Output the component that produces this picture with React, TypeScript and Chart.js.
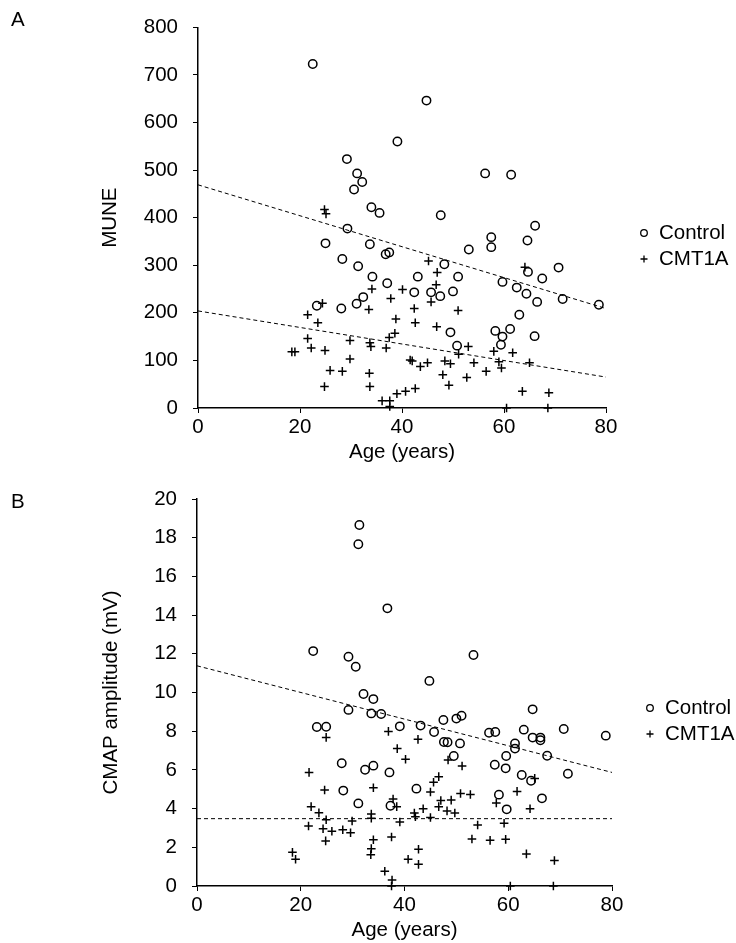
import React, { useEffect, useRef } from "react";
import { Chart, registerables } from "chart.js";
Chart.register(...registerables);

const FONT = "'Liberation Sans', Arial, sans-serif";
const FS = 20.5;

// ---------- Panel A: MUNE ----------
const muneControlAge = [22.5, 39.1, 29.2, 31.2, 32.2, 30.6, 34.0, 35.6, 29.3, 44.8, 56.3, 61.4, 47.6, 66.1, 25.0, 33.7, 36.8, 37.5, 28.3, 31.4, 34.2, 37.1, 23.3, 32.4, 31.1, 28.1, 57.5, 57.5, 64.6, 53.1, 48.3, 70.7, 64.7, 43.1, 51.0, 67.5, 59.7, 62.5, 42.4, 45.7, 47.5, 50.0, 64.4, 66.5, 71.5, 78.6, 63.0, 49.5, 58.3, 61.2, 59.7, 66.0, 59.4, 50.8];
const muneControlValue = [723, 560, 523, 493, 475, 459, 422, 410, 377, 646, 493, 490, 405, 383, 346, 344, 323, 327, 313, 298, 276, 262, 215, 233, 219, 209, 359, 338, 352, 333, 302, 295, 286, 276, 276, 272, 265, 253, 243, 243, 235, 245, 240, 223, 229, 217, 196, 159, 162, 166, 150, 151, 133, 131];
const muneCmtAge = [24.8, 25.1, 34.1, 40.1, 37.8, 24.4, 33.5, 21.5, 38.8, 23.5, 38.6, 37.5, 21.5, 29.8, 33.7, 33.9, 36.9, 22.2, 24.9, 18.4, 19.0, 29.8, 25.9, 28.3, 33.6, 24.8, 33.7, 40.7, 39.0, 36.1, 37.6, 37.6, 41.6, 45.2, 64.1, 46.9, 46.7, 45.7, 42.4, 51.0, 42.6, 46.8, 53.0, 51.1, 58.0, 61.7, 42.0, 45.0, 43.6, 48.4, 49.5, 54.1, 59.0, 59.5, 65.0, 48.0, 52.7, 56.5, 49.2, 42.6, 63.6, 68.8, 60.5, 68.6];
const muneCmtValue = [417, 408, 250, 249, 230, 220, 207, 196, 187, 179, 157, 148, 146, 142, 137, 129, 126, 126, 121, 118, 118, 103, 79, 77, 73, 45, 45, 35, 30, 15, 15, 3, 101, 309, 296, 285, 259, 223, 209, 205, 179, 171, 129, 113, 119, 116, 99, 95, 87, 99, 93, 95, 97, 84, 95, 70, 64, 77, 48, 41, 35, 32, 0, 0];
const trendAge = [0, 80];
const muneControlTrend = [469, 209];
const muneCmtTrend = [204, 65];

// ---------- Panel B: CMAP amplitude ----------
const cmapControlAge = [31.3, 31.1, 36.7, 22.4, 29.2, 30.6, 53.3, 44.8, 32.1, 34.0, 29.2, 33.6, 35.5, 23.1, 24.9, 39.1, 27.9, 32.4, 34.0, 37.1, 28.2, 31.1, 37.3, 64.7, 43.1, 47.5, 50.0, 51.0, 45.7, 56.3, 57.5, 63.0, 70.7, 78.8, 64.7, 66.2, 66.2, 47.6, 48.3, 50.7, 61.3, 61.3, 59.6, 67.5, 49.5, 57.4, 59.5, 71.5, 62.6, 64.4, 42.3, 58.2, 66.5, 59.7];
const cmapControlValue = [18.66, 17.66, 14.35, 12.14, 11.85, 11.33, 11.94, 10.6, 9.92, 9.66, 9.10, 8.92, 8.89, 8.22, 8.23, 8.25, 6.34, 6.01, 6.22, 5.87, 4.93, 4.27, 4.15, 9.13, 8.29, 8.58, 8.65, 8.80, 7.96, 7.92, 7.96, 8.08, 8.11, 7.77, 7.67, 7.67, 7.53, 7.44, 7.43, 7.37, 7.37, 7.10, 6.72, 6.73, 6.72, 6.27, 6.08, 5.80, 5.74, 5.44, 5.03, 4.72, 4.53, 3.96];
const cmapCmtAge = [24.9, 36.9, 38.6, 40.2, 21.6, 24.6, 34.0, 37.8, 38.5, 22.0, 23.5, 33.6, 33.6, 24.9, 29.9, 39.1, 21.5, 24.3, 26.0, 28.1, 29.6, 37.5, 24.8, 34.0, 33.6, 33.5, 18.4, 19.0, 40.7, 36.2, 37.6, 37.5, 42.6, 48.4, 51.1, 46.6, 45.6, 65.1, 45.0, 50.8, 52.7, 61.7, 47.0, 49.0, 46.6, 48.2, 49.7, 43.6, 57.7, 64.2, 41.9, 42.1, 45.0, 54.1, 59.2, 53.0, 56.5, 59.5, 42.7, 42.7, 63.5, 68.9, 60.4, 68.7];
const cmapCmtValue = [7.68, 7.99, 7.10, 6.55, 5.87, 4.96, 5.08, 4.50, 4.10, 4.10, 3.78, 3.72, 3.50, 3.42, 3.36, 3.31, 3.10, 2.96, 2.83, 2.91, 2.75, 2.53, 2.33, 2.39, 1.93, 1.62, 1.74, 1.38, 1.38, 0.76, 0.31, 0.0, 7.58, 6.51, 6.20, 5.65, 5.36, 5.56, 4.86, 4.78, 4.73, 4.89, 4.42, 4.44, 4.10, 3.88, 3.77, 3.99, 4.29, 3.99, 3.77, 3.58, 3.54, 3.15, 3.24, 2.43, 2.36, 2.41, 1.90, 1.12, 1.66, 1.32, 0, 0];
const cmapControlTrend = [11.38, 5.87];
const cmapCmtTrend = [3.48, 3.48];

const xTicks = [0, 20, 40, 60, 80];
const seriesNames = ["Control", "CMT1A"];

const pts = (xs: number[], ys: number[]) => xs.map((x, i) => ({ x, y: ys[i] }));

const legendPlugin = {
  id: "sideLegend",
  afterDraw(chart: any, _args: any, opts: any) {
    const { ctx, chartArea } = chart;
    const mx = chartArea.right + 38;
    const tx = chartArea.right + 53;
    ctx.save();
    ctx.strokeStyle = "#000";
    ctx.lineWidth = 1.3;
    ctx.fillStyle = "#000";
    ctx.font = `${FS}px ${FONT}`;
    ctx.textBaseline = "middle";
    ctx.textAlign = "left";
    const y1 = opts.cy - 13;
    const y2 = opts.cy + 13;
    ctx.beginPath();
    ctx.arc(mx, y1, 3.3, 0, Math.PI * 2);
    ctx.stroke();
    ctx.fillText(seriesNames[0], tx, y1);
    ctx.beginPath();
    ctx.moveTo(mx - 3.5, y2);
    ctx.lineTo(mx + 3.5, y2);
    ctx.moveTo(mx, y2 - 3.5);
    ctx.lineTo(mx, y2 + 3.5);
    ctx.stroke();
    ctx.fillText(seriesNames[1], tx, y2);
    ctx.restore();
  },
};

type Spec = {
  width: number;
  height: number;
  control: { x: number; y: number }[];
  cmt: { x: number; y: number }[];
  controlTrend: { x: number; y: number }[];
  cmtTrend: { x: number; y: number }[];
  yMax: number;
  yStep: number;
  yTitle: string;
  yAxisWidth: number;
  xAxisHeight: number;
  padTop: number;
  padRight: number;
  yTitlePad: number;
  xTitlePad: number;
  legendCy: number;
};

function makeConfig(s: Spec): any {
  const trend = (data: any[]) => ({
    type: "line",
    data,
    borderColor: "#000",
    borderWidth: 1,
    borderDash: [4, 3],
    pointRadius: 0,
    fill: false,
    tension: 0,
  });
  return {
    type: "scatter",
    data: {
      datasets: [
        trend(s.controlTrend),
        trend(s.cmtTrend),
        {
          label: seriesNames[0],
          data: s.control,
          pointStyle: "circle",
          pointRadius: 4.2,
          borderColor: "#000",
          backgroundColor: "rgba(0,0,0,0)",
          borderWidth: 1.5,
          clip: false,
        },
        {
          label: seriesNames[1],
          data: s.cmt,
          pointStyle: "cross",
          pointRadius: 4.3,
          borderColor: "#000",
          backgroundColor: "#000",
          borderWidth: 1.5,
          clip: false,
        },
      ],
    },
    options: {
      responsive: false,
      animation: false,
      events: [],
      layout: { padding: { left: 0, right: s.padRight, top: s.padTop, bottom: 0 } },
      plugins: {
        legend: { display: false },
        tooltip: { enabled: false },
        sideLegend: { cy: s.legendCy },
      },
      scales: {
        x: {
          type: "linear",
          min: 0,
          max: 80,
          afterBuildTicks: (sc: any) => {
            sc.ticks = xTicks.map((v) => ({ value: v }));
          },
          afterFit: (sc: any) => {
            sc.height = s.xAxisHeight;
          },
          grid: { drawOnChartArea: false, drawTicks: true, tickLength: 5, color: "#000", lineWidth: 1 },
          border: { color: "#000", width: 1.5 },
          ticks: { color: "#000", font: { family: FONT, size: FS }, padding: 2, maxRotation: 0 },
          title: {
            display: true,
            text: "Age (years)",
            color: "#000",
            font: { family: FONT, size: FS },
            padding: { top: 0, bottom: s.xTitlePad },
          },
        },
        y: {
          type: "linear",
          min: 0,
          max: s.yMax,
          ticks: { stepSize: s.yStep, color: "#000", font: { family: FONT, size: FS }, padding: 15 },
          afterFit: (sc: any) => {
            sc.width = s.yAxisWidth;
          },
          grid: { drawOnChartArea: false, drawTicks: true, tickLength: 5, color: "#000", lineWidth: 1 },
          border: { color: "#000", width: 1.5 },
          title: {
            display: true,
            text: s.yTitle,
            color: "#000",
            font: { family: FONT, size: FS },
            padding: { top: s.yTitlePad, bottom: 0 },
          },
        },
      },
    },
    plugins: [legendPlugin],
  };
}

function Panel({ spec, top }: { spec: Spec; top: number }) {
  const ref = useRef<HTMLCanvasElement | null>(null);
  useEffect(() => {
    if (!ref.current) return;
    const chart = new Chart(ref.current, makeConfig(spec));
    return () => chart.destroy();
  }, []);
  return (
    <canvas
      ref={ref}
      width={spec.width}
      height={spec.height}
      style={{ position: "absolute", left: 0, top, width: spec.width, height: spec.height }}
    />
  );
}

const specA: Spec = {
  width: 736,
  height: 470,
  control: pts(muneControlAge, muneControlValue),
  cmt: pts(muneCmtAge, muneCmtValue),
  controlTrend: pts(trendAge, muneControlTrend),
  cmtTrend: pts(trendAge, muneCmtTrend),
  yMax: 800,
  yStep: 100,
  yTitle: "MUNE",
  yAxisWidth: 198,
  xAxisHeight: 62,
  padTop: 22,
  padRight: 130,
  yTitlePad: 98,
  xTitlePad: 5,
  legendCy: 246,
};

const specB: Spec = {
  width: 736,
  height: 473,
  control: pts(cmapControlAge, cmapControlValue),
  cmt: pts(cmapCmtAge, cmapCmtValue),
  controlTrend: pts(trendAge, cmapControlTrend),
  cmtTrend: pts(trendAge, cmapCmtTrend),
  yMax: 20,
  yStep: 2,
  yTitle: "CMAP amplitude (mV)",
  yAxisWidth: 197,
  xAxisHeight: 57,
  padTop: 29,
  padRight: 124,
  yTitlePad: 99,
  xTitlePad: 0,
  legendCy: 251,
};

export default function App() {
  const labelStyle: React.CSSProperties = {
    position: "absolute",
    left: 11,
    fontFamily: FONT,
    fontSize: FS,
    lineHeight: "22px",
    color: "#000",
  };
  return (
    <div style={{ position: "absolute", left: 0, top: 0, width: 736, height: 943, background: "#fff" }}>
      <Panel spec={specA} top={0} />
      <Panel spec={specB} top={470} />
      <div style={{ ...labelStyle, top: 8 }}>A</div>
      <div style={{ ...labelStyle, top: 490 }}>B</div>
    </div>
  );
}
